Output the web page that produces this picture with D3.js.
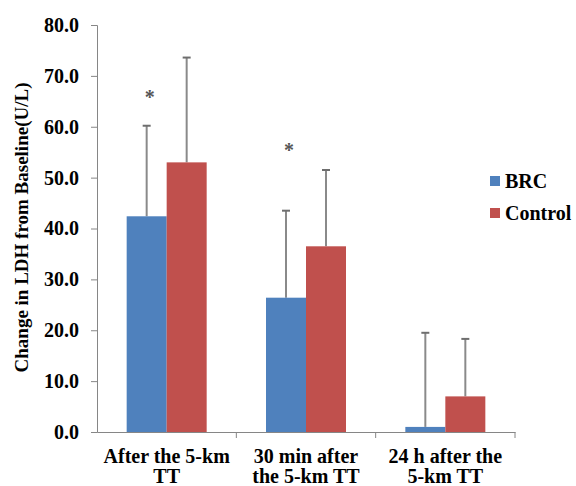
<!DOCTYPE html>
<html>
<head>
<meta charset="utf-8">
<script src="https://cdn.jsdelivr.net/npm/d3@7"></script>
<style>
  body { margin: 0; background: #fff; }
</style>
</head>
<body>
<div class="container"></div>
<script>
const categories = [['After the 5-km', 'TT'], ['30 min after', 'the 5-km TT'], ['24 h after the', '5-km TT']];
const groups = ['BRC', 'Control'];
const brcValues = [42.4, 26.4, 1.0];
const brcErrors = [17.8, 17.1, 18.5];
const controlValues = [53.0, 36.5, 7.0];
const controlErrors = [20.6, 15.0, 11.3];
const stars = [66.7, 56.2];
const yTicks = [0, 10, 20, 30, 40, 50, 60, 70, 80];

const width = 576, height = 486,
    margin = { left: 97, top: 25, right: 61, bottom: 54 },
    font = 'Liberation Serif',
    color = d3.scaleOrdinal().domain(groups).range(['#4f81bd', '#c0504d']);

const svg = d3.select('.container')
    .append('svg')
    .attr('width', width)
    .attr('height', height);

const x = d3.scaleBand()
    .domain(d3.range(categories.length))
    .range([margin.left, width - margin.right]);

const xInner = d3.scaleBand()
    .domain(groups)
    .range([0, 80]);

const y = d3.scaleLinear()
    .domain([0, 80])
    .range([height - margin.bottom, margin.top]);

// axes
const yAxis = svg.append('g')
    .attr('transform', `translate(${margin.left},0)`)
    .call(d3.axisLeft(y).tickValues(yTicks).tickFormat(d3.format('.1f')).tickSize(6).tickPadding(12));

const xAxis = svg.append('g')
    .attr('transform', `translate(0,${y(0)})`)
    .call(d3.axisBottom(x).tickValues([]).tickSizeOuter(0));

xAxis.selectAll('.sep')
    .data(categories)
    .enter()
    .append('line')
    .attr('x1', (d, i) => x(i) + x.bandwidth())
    .attr('x2', (d, i) => x(i) + x.bandwidth())
    .attr('y1', 0)
    .attr('y2', 6);

svg.selectAll('.domain, .tick line, g line').attr('stroke', '#868686');

// category labels
const labels = svg.append('g')
    .selectAll('text')
    .data(categories)
    .enter()
    .append('text')
    .attr('text-anchor', 'middle')
    .attr('x', (d, i) => x(i) + x.bandwidth() / 2)
    .attr('y', y(0) + 31);

labels.selectAll('tspan')
    .data(d => d)
    .enter()
    .append('tspan')
    .attr('x', function () { return this.parentNode.getAttribute('x'); })
    .attr('dy', (d, i) => i === 0 ? 0 : 20)
    .text(d => d);

// bars
const series = [
    { name: 'BRC', values: brcValues, errors: brcErrors },
    { name: 'Control', values: controlValues, errors: controlErrors }
];

series.forEach(s => {
    const g = svg.append('g');
    const cx = i => x(i) + x.bandwidth() / 2 - 40 + xInner(s.name);

    g.selectAll('line.err')
        .data(s.values)
        .enter()
        .append('line')
        .attr('x1', (d, i) => cx(i) + xInner.bandwidth() / 2)
        .attr('x2', (d, i) => cx(i) + xInner.bandwidth() / 2)
        .attr('y1', d => y(d))
        .attr('y2', (d, i) => y(d + s.errors[i]))
        .attr('stroke', '#8a8a8a')
        .attr('stroke-width', 2);

    g.selectAll('line.cap')
        .data(s.values)
        .enter()
        .append('line')
        .attr('x1', (d, i) => cx(i) + xInner.bandwidth() / 2 - 4)
        .attr('x2', (d, i) => cx(i) + xInner.bandwidth() / 2 + 4)
        .attr('y1', (d, i) => y(d + s.errors[i]))
        .attr('y2', (d, i) => y(d + s.errors[i]))
        .attr('stroke', '#6e6e6e')
        .attr('stroke-width', 2);

    g.selectAll('rect')
        .data(s.values)
        .enter()
        .append('rect')
        .attr('x', (d, i) => cx(i))
        .attr('y', d => y(d))
        .attr('width', xInner.bandwidth())
        .attr('height', d => y(0) - y(d))
        .attr('fill', color(s.name));
});

// significance stars
svg.append('g')
    .selectAll('text')
    .data(stars)
    .enter()
    .append('text')
    .attr('text-anchor', 'middle')
    .attr('x', (d, i) => x(i) + x.bandwidth() / 2 - 20 + 3)
    .attr('y', d => y(d) + 11)
    .attr('fill', '#555')
    .text('*');

// legend
const legendItem = svg.append('g')
    .attr('id', 'legend')
    .selectAll('g')
    .data(groups)
    .enter()
    .append('g')
    .attr('transform', (d, i) => `translate(490, ${181 + i * 32})`);

legendItem.append('rect')
    .attr('x', 0)
    .attr('y', -5)
    .attr('width', 10)
    .attr('height', 10)
    .attr('fill', d => color(d));

legendItem.append('text')
    .attr('x', 15)
    .attr('y', 7)
    .text(d => d);

// y axis title
svg.append('text')
    .attr('class', 'ytitle')
    .attr('transform', `translate(28, ${y(40) - 1}) rotate(-90)`)
    .attr('text-anchor', 'middle')
    .text('Change in LDH from Baseline(U/L)');

// fonts: set on every text directly
svg.selectAll('text')
    .attr('font-family', font)
    .attr('font-weight', 'bold')
    .attr('font-size', 20)
    .filter(function () { return !this.getAttribute('fill'); })
    .attr('fill', '#000');
svg.select('.ytitle').attr('font-size', 19);
</script>
</body>
</html>
